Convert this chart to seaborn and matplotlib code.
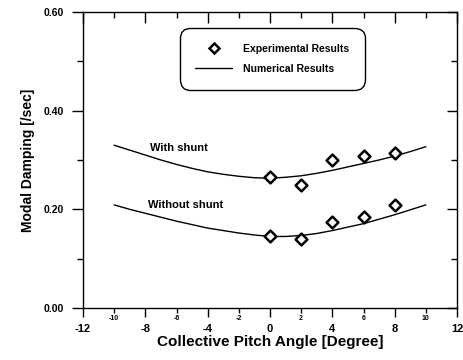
import numpy as np
import pandas as pd
import matplotlib
matplotlib.use("Agg")
import matplotlib.pyplot as plt
import seaborn as sns
from matplotlib.lines import Line2D

# ---- data ----
exp_x = [0, 2, 4, 6, 8]
exp_with = [0.265, 0.249, 0.299, 0.309, 0.315]
exp_without = [0.145, 0.139, 0.175, 0.185, 0.209]

num_x = [-10, -9, -8, -7, -6, -5, -4, -3, -2, -1, 0, 1, 2, 3, 4, 5, 6, 7, 8, 9, 10]
num_with = [0.330, 0.320, 0.310, 0.300, 0.291, 0.283, 0.276, 0.271, 0.267, 0.264, 0.263,
            0.265, 0.268, 0.273, 0.279, 0.286, 0.293, 0.300, 0.308, 0.317, 0.327]
num_without = [0.209, 0.200, 0.192, 0.184, 0.176, 0.169, 0.162, 0.157, 0.152, 0.148, 0.145,
               0.145, 0.147, 0.151, 0.157, 0.164, 0.171, 0.180, 0.189, 0.199, 0.209]

major_xticks = [-12, -8, -4, 0, 4, 8, 12]
minor_xticks = [-10, -6, -2, 2, 6, 10]
major_yticks = [0.0, 0.2, 0.4, 0.6]
minor_yticks = [0.1, 0.3, 0.5]

sns.set_theme(style="white")
plt.rcParams['font.family'] = ['Liberation Sans', 'DejaVu Sans']
plt.rcParams['font.weight'] = 'bold'
for k in ['text.color', 'axes.labelcolor', 'xtick.color', 'ytick.color']:
    plt.rcParams[k] = 'black'

num_df = pd.DataFrame({
    "x": num_x * 2,
    "y": num_with + num_without,
    "case": ["with"] * len(num_x) + ["without"] * len(num_x),
})
exp_df = pd.DataFrame({
    "x": exp_x * 2,
    "y": exp_with + exp_without,
    "case": ["with"] * len(exp_x) + ["without"] * len(exp_x),
})

fig = plt.figure(figsize=(4.64, 3.60), dpi=100)
ax = fig.add_axes([83/464, 1-308/360, (457-83)/464, (308-12)/360])

sns.lineplot(data=num_df, x="x", y="y", units="case", estimator=None,
             color="black", linewidth=1.0, ax=ax, legend=False)
sns.scatterplot(data=exp_df, x="x", y="y", marker="D", s=36,
                facecolor="white", edgecolor="black", linewidth=1.8,
                ax=ax, legend=False, zorder=5)

ax.set_xlim(-12, 12)
ax.set_ylim(0, 0.6)

for s in ax.spines.values():
    s.set_color("black")
    s.set_linewidth(1.0)

ax.set_xticks(major_xticks, labels=[str(v) for v in major_xticks])
ax.set_xticks(minor_xticks, labels=[str(v) for v in minor_xticks], minor=True)
ax.set_yticks(major_yticks, labels=[f"{v:.2f}" for v in major_yticks])
ax.set_yticks(minor_yticks, minor=True)

ax.tick_params(axis="x", which="major", direction="out", length=6.5, width=1,
               color="black", labelcolor="black", labelsize=8, pad=5, bottom=True)
ax.tick_params(axis="x", which="minor", direction="out", length=3.5, width=1,
               color="black", labelcolor="black", labelsize=5, pad=1.5, bottom=True)
ax.tick_params(axis="y", which="major", direction="out", length=8, width=1,
               color="black", labelcolor="black", labelsize=7.5, pad=6, left=True)
ax.tick_params(axis="y", which="minor", direction="out", length=4, width=1,
               color="black", left=True)
for lab in ax.get_xticklabels() + ax.get_yticklabels() + ax.get_xticklabels(minor=True):
    lab.set_fontweight("bold")

# inward ticks on top and right
top = ax.secondary_xaxis("top")
top.set_xticks(major_xticks)
top.set_xticks(minor_xticks, minor=True)
top.tick_params(axis="x", which="major", direction="in", length=8, width=1,
                color="black", labeltop=False)
top.tick_params(axis="x", which="minor", direction="in", length=4, width=1,
                color="black")
top.set_xticklabels([])
top.spines["top"].set_visible(False)

right = ax.secondary_yaxis("right")
right.set_yticks(major_yticks)
right.set_yticks(minor_yticks, minor=True)
right.tick_params(axis="y", which="major", direction="in", length=7.5, width=1,
                  color="black", labelright=False)
right.tick_params(axis="y", which="minor", direction="in", length=4, width=1,
                  color="black")
right.set_yticklabels([])
right.spines["right"].set_visible(False)

ax.set_xlabel("Collective Pitch Angle [Degree]", fontsize=11, fontweight="bold",
              labelpad=1, color="black")
ax.set_ylabel("Modal Damping [/sec]", fontsize=10, fontweight="bold", labelpad=6,
              color="black")

ax.text(-7.7, 0.325, "With shunt", fontsize=8, fontweight="bold",
        ha="left", va="center", color="black")
ax.text(-7.85, 0.208, "Without shunt", fontsize=8, fontweight="bold",
        ha="left", va="center", color="black")

handles = [
    Line2D([], [], marker="D", linestyle="none", markersize=5.5,
           markerfacecolor="white", markeredgecolor="black", markeredgewidth=1.8),
    Line2D([], [], color="black", linewidth=1.0),
]
leg = ax.legend(handles, ["Experimental Results", "Numerical Results"],
                loc="upper left", bbox_to_anchor=(0.259, 0.946),
                frameon=True, fancybox=True, edgecolor="black",
                framealpha=1, fontsize=7.5, handlelength=3.5,
                handletextpad=1.05, borderpad=1.5, labelspacing=1.0,
                borderaxespad=0)
leg.get_frame().set_linewidth(1.0)
leg.get_frame().set_boxstyle("round", pad=0, rounding_size=1.0)
for t in leg.get_texts():
    t.set_fontweight("bold")
    t.set_color("black")

fig.savefig("out.png", dpi=100)
